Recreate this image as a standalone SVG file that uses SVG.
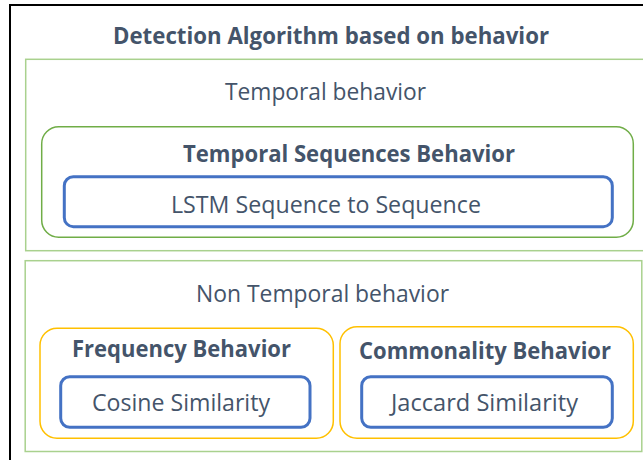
<svg xmlns="http://www.w3.org/2000/svg" width="643" height="460" viewBox="0 0 643 460">
<style>
  .t { font-family: "Open Sans", "Noto Sans", "DejaVu Sans", sans-serif; fill: #44546A; text-anchor: middle; }
  .reg { font-size: 23.5px; }
  .bold { font-size: 23px; font-weight: bold; }
  .group { fill: #FFFFFF; stroke: #A9D18E; stroke-width: 1.5; }
  .green { fill: #FFFFFF; stroke: #70AD47; stroke-width: 1.5; }
  .orange { fill: #FFFFFF; stroke: #FFC000; stroke-width: 1.5; }
  .blue { fill: #FFFFFF; stroke: #4472C4; stroke-width: 3; }
</style>
<rect x="0" y="0" width="643" height="460" fill="#FFFFFF"/>
<path d="M10,462 V5 H645" fill="none" stroke="#000000" stroke-width="2"/>
<g id="title">
  <text class="t bold" x="331" y="43.5" textLength="436" lengthAdjust="spacingAndGlyphs">Detection Algorithm based on behavior</text>
</g>
<g id="temporal">
  <rect class="group" x="25.7" y="59.3" width="630" height="191.4"/>
  <text class="t reg" x="325.5" y="100" textLength="201" lengthAdjust="spacingAndGlyphs">Temporal behavior</text>
</g>
<g id="temporal-sequences">
  <rect class="green" x="41.7" y="126.7" width="591.6" height="110.6" rx="17"/>
  <text class="t bold" x="349" y="162" textLength="332" lengthAdjust="spacingAndGlyphs">Temporal Sequences Behavior</text>
</g>
<g id="lstm">
  <rect class="blue" x="64.3" y="176.7" width="548" height="50" rx="9"/>
  <text class="t reg" x="326" y="212.5" textLength="310" lengthAdjust="spacingAndGlyphs">LSTM Sequence to Sequence</text>
</g>
<g id="non-temporal">
  <rect class="group" x="25.2" y="260.7" width="616.6" height="190.8" stroke="#9BC985"/>
  <text class="t reg" x="322.5" y="301.5" textLength="253" lengthAdjust="spacingAndGlyphs">Non Temporal behavior</text>
</g>
<g id="frequency">
  <rect class="orange" x="40" y="328.3" width="293.3" height="110" rx="17"/>
  <text class="t bold" x="181.5" y="357" textLength="219" lengthAdjust="spacingAndGlyphs">Frequency Behavior</text>
</g>
<g id="cosine">
  <rect class="blue" x="60.7" y="376.7" width="249.3" height="50.6" rx="9"/>
  <text class="t reg" x="181" y="410.5" textLength="178" lengthAdjust="spacingAndGlyphs">Cosine Similarity</text>
</g>
<g id="commonality">
  <rect class="orange" x="340" y="326.7" width="293.3" height="111.6" rx="17"/>
  <text class="t bold" x="485" y="359" textLength="252" lengthAdjust="spacingAndGlyphs">Commonality Behavior</text>
</g>
<g id="jaccard">
  <rect class="blue" x="361.7" y="376.7" width="250.6" height="50.6" rx="9"/>
  <text class="t reg" x="484.5" y="410.5" textLength="187" lengthAdjust="spacingAndGlyphs">Jaccard Similarity</text>
</g>
<g id="connectors"></g>
</svg>
